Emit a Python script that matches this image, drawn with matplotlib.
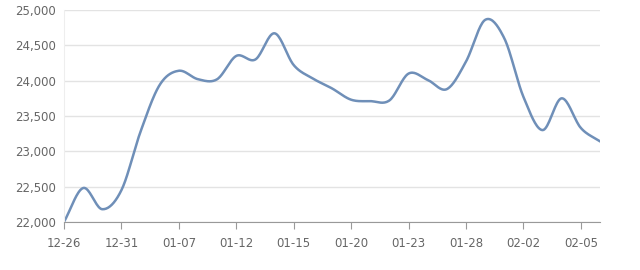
import numpy as np
import matplotlib
matplotlib.use("Agg")
import matplotlib.pyplot as plt
from matplotlib.ticker import FuncFormatter

# 日付（3つおきにラベル表示）
dates = ["12-26", "12-27", "12-30", "12-31", "01-02", "01-06", "01-07", "01-09",
         "01-10", "01-12", "01-13", "01-14", "01-15", "01-16", "01-17", "01-20",
         "01-21", "01-22", "01-23", "01-24", "01-27", "01-28", "01-29", "01-31",
         "02-02", "02-03", "02-04", "02-05", "02-06"]

# 価格
prices = [22000, 22480, 22180, 22450, 23280, 23940, 24140, 24020, 24020, 24350,
          24300, 24670, 24220, 24030, 23890, 23730, 23710, 23720, 24100, 24010,
          23880, 24270, 24860, 24600, 23770, 23300, 23750, 23330, 23140]

yticks = [22000, 22500, 23000, 23500, 24000, 24500, 25000]


# 滑らかな線を描くための補間（描画用のみ）
def smooth_curve(xs, ys, n=20):
    xs = np.asarray(xs, dtype=float)
    ys = np.asarray(ys, dtype=float)
    m = np.gradient(ys, xs)
    out_x, out_y = [], []
    for i in range(len(xs) - 1):
        h = xs[i + 1] - xs[i]
        t = np.linspace(0, 1, n, endpoint=False)
        h00 = 2 * t**3 - 3 * t**2 + 1
        h10 = t**3 - 2 * t**2 + t
        h01 = -2 * t**3 + 3 * t**2
        h11 = t**3 - t**2
        out_x.extend(xs[i] + t * h)
        out_y.extend(h00 * ys[i] + h10 * h * m[i] + h01 * ys[i + 1] + h11 * h * m[i + 1])
    out_x.append(xs[-1])
    out_y.append(ys[-1])
    return np.array(out_x), np.array(out_y)


fig = plt.figure(figsize=(6.4, 2.7), dpi=100)
ax = fig.add_axes([0.1, 0.178, 0.8375, 0.785])

x = np.arange(len(dates))
sx, sy = smooth_curve(x, prices)
ax.plot(sx, sy, color="#6f8fb8", linewidth=1.8, solid_capstyle="round")

ax.set_xlim(0, len(dates) - 1)
ax.set_ylim(22000, 25000)
ax.set_yticks(yticks)
ax.yaxis.set_major_formatter(FuncFormatter(lambda v, p: f"{int(v):,}"))
ax.set_xticks(x[::3])
ax.set_xticklabels(dates[::3])

ax.grid(axis="y", color="#e3e3e3", linewidth=1)
ax.set_axisbelow(True)
for s in ["top", "right"]:
    ax.spines[s].set_visible(False)
ax.spines["left"].set_color("#eeeeee")
ax.spines["bottom"].set_color("#999999")
ax.tick_params(axis="y", length=0, pad=6, labelsize=8.5, labelcolor="#666666")
ax.tick_params(axis="x", length=5, color="#999999", pad=6, labelsize=8.5, labelcolor="#666666")

fig.savefig("out.png", dpi=100)
